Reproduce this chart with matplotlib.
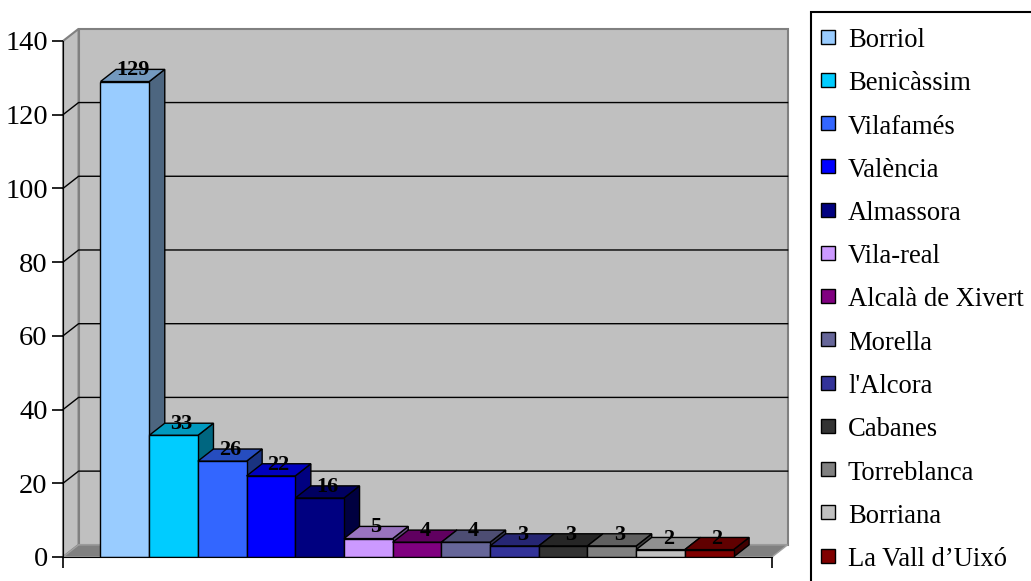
import matplotlib.pyplot as plt
from matplotlib.patches import Polygon, Rectangle
from matplotlib.colors import to_rgb

plt.rcParams['font.family'] = ['Liberation Serif', 'DejaVu Serif']

# data
towns = ["Borriol", "Benicàssim", "Vilafamés", "València", "Almassora", "Vila-real",
         "Alcalà de Xivert", "Morella", "l'Alcora", "Cabanes", "Torreblanca",
         "Borriana", "La Vall d’Uixó"]
counts = [129, 33, 26, 22, 16, 5, 4, 4, 3, 3, 3, 2, 2]
colors = ["#99CCFF", "#00CCFF", "#3366FF", "#0000FF", "#000080", "#CC99FF",
          "#800080", "#666699", "#333399", "#333333", "#808080", "#C0C0C0", "#800000"]
y_ticks = [0, 20, 40, 60, 80, 100, 120, 140]

W, H = 1031, 581
fig = plt.figure(figsize=(W / 100, H / 100), dpi=100)
ax = fig.add_axes([63 / W, 24 / H, 709 / W, 516 / H])

x0, x1 = -0.77, 13.79
ymax = 140
dx, dy = 0.32, 3.3   # depth of the fake 3d, in data units

ax.set_xlim(x0, x1)
ax.set_ylim(0, ymax)


def shade(c, f):
    r, g, b = to_rgb(c)
    return (r * f, g * f, b * f)


# walls and floor
wall = "#C0C0C0"
edge = "#808080"
ax.add_patch(Polygon([(x0 + dx, dy), (x1 + dx, dy), (x1 + dx, ymax + dy), (x0 + dx, ymax + dy)],
                     closed=True, fc=wall, ec=edge, lw=1.5, clip_on=False, zorder=0.5))
ax.add_patch(Polygon([(x0, 0), (x0 + dx, dy), (x0 + dx, ymax + dy), (x0, ymax)],
                     closed=True, fc=wall, ec=edge, lw=1.5, clip_on=False, zorder=0.5))
ax.add_patch(Polygon([(x0, 0), (x1, 0), (x1 + dx, dy), (x0 + dx, dy)],
                     closed=True, fc=edge, ec="#A0A0A0", lw=1, clip_on=False, zorder=0.5))
for v in y_ticks[1:-1]:
    ax.plot([x0, x0 + dx, x1 + dx], [v, v + dy, v + dy], color="black", lw=1,
            clip_on=False, zorder=0.6)

# bars: side + top, then front
for i, (v, c) in enumerate(zip(counts, colors)):
    z = 1 + i * 0.01
    ax.add_patch(Polygon([(i + 1, 0), (i + 1 + dx, dy), (i + 1 + dx, v + dy), (i + 1, v)],
                         closed=True, fc=shade(c, 0.5), ec="black", lw=1, zorder=z))
    ax.add_patch(Polygon([(i, v), (i + 1, v), (i + 1 + dx, v + dy), (i + dx, v + dy)],
                         closed=True, fc=shade(c, 0.75), ec="black", lw=1, zorder=z))
    ax.bar(i, v, width=1, align="edge", color=c, edgecolor="black", lw=1, zorder=z + 0.005)
    ax.text(i + 0.5 + dx / 2, v + dy / 2, str(v), ha="center", va="baseline",
            fontsize=16, fontweight="bold", zorder=3)

ax.set_facecolor("white")
for s in ("top", "right"):
    ax.spines[s].set_visible(False)
ax.spines["left"].set_zorder(2.5)
ax.spines["bottom"].set_zorder(2.5)
ax.set_yticks(y_ticks)
ax.set_xticks([x0, x1])
ax.set_xticklabels([])
ax.tick_params(axis="y", direction="out", length=8, width=1.2, pad=3, labelsize=20.5)
ax.tick_params(axis="x", direction="out", length=8, width=1.2)

# legend box (runs past the right and bottom edges)
fig.patches.append(Rectangle((811 / W, -0.1), 0.3, 1.1 - 12 / H,
                             transform=fig.transFigure, fc="white", ec="black", lw=1.5))
for i, (name, c) in enumerate(zip(towns, colors)):
    base = 47 + i * 43.25
    fig.patches.append(Rectangle((821 / W, 1 - (base - 3.4) / H), 14 / W, 14 / H,
                                 transform=fig.transFigure, fc=c, ec="black", lw=1))
    fig.text(848 / W, 1 - base / H, name, fontsize=19.2, va="baseline", ha="left")

fig.savefig("out.png", dpi=100)
